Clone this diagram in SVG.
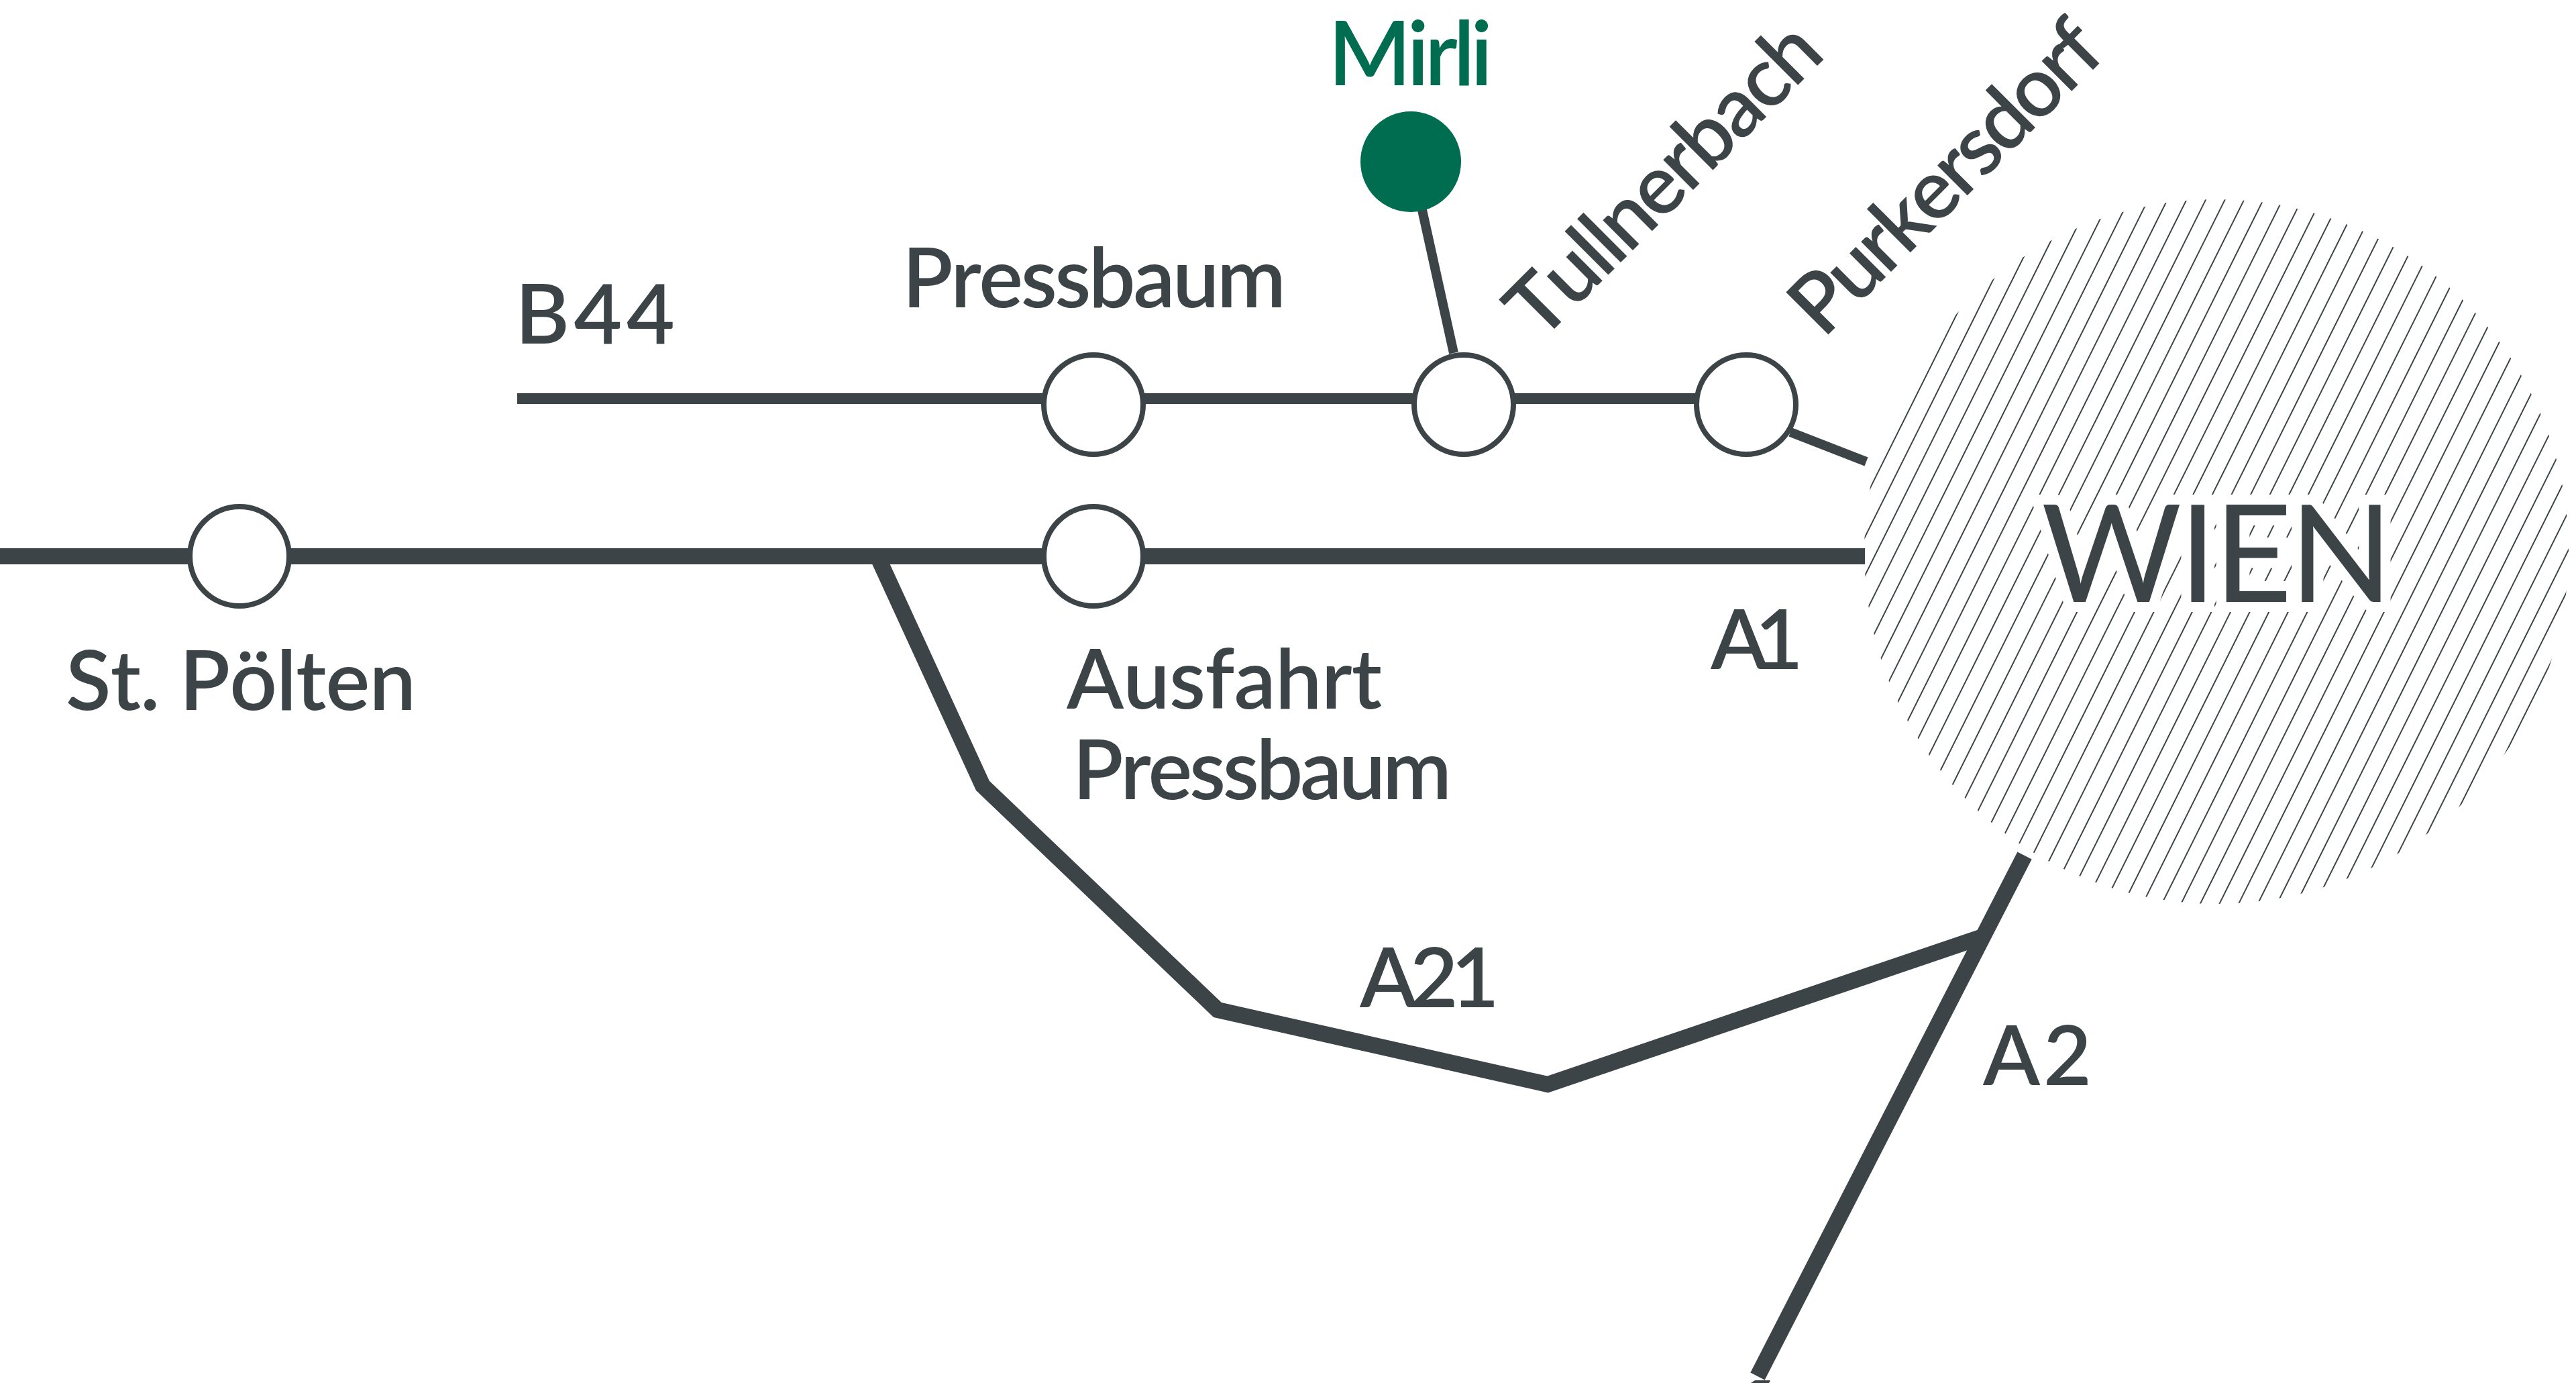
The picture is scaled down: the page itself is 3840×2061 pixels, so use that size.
<svg xmlns="http://www.w3.org/2000/svg" width="3840" height="2061" viewBox="0 0 3840 2061">
<style>
text{font-family:"Lato","Liberation Sans",sans-serif;fill:#3d4447;font-size:124px;font-weight:600;font-kerning:none}
.thin{fill:none;stroke:#3d4447;stroke-width:14}
.b44{fill:none;stroke:#3d4447;stroke-width:16}
.thick{fill:none;stroke:#3d4447;stroke-width:24;stroke-linejoin:miter}
.a1{fill:none;stroke:#3d4447;stroke-width:24}
.node{fill:#fff;stroke:#3d4447;stroke-width:8}
</style>
<defs>
<pattern id="hatch" width="25.6" height="25.6" patternUnits="userSpaceOnUse" patternTransform="rotate(26.5) translate(-9.4 0)">
<line x1="12.8" y1="0" x2="12.8" y2="25.6" stroke="#3d4447" stroke-width="2"/>
</pattern>
</defs>
<rect width="3840" height="2061" fill="#fff"/>
<g id="wien">
<circle cx="3304" cy="822" r="525" fill="url(#hatch)"/>
<text x="3043" y="897" style="font-size:202px;font-weight:400;stroke:#fff;stroke-width:30;paint-order:stroke" textLength="524">WIEN</text>
</g>
<g id="connectors">
<path class="b44" d="M771 594H2603"/>
<path class="thin" d="M2120 313L2167 526"/>
<path class="thin" d="M2669 644L2782 688"/>
<path class="a1" d="M0 829H2780"/>
<path class="thick" d="M1308 829L1465 1171L1815 1505L2307 1616L2952 1397"/>
<path class="thick" d="M3018 1275L2620 2051"/>
<path d="M2610 2061L2616 2057H2639L2637 2061Z" fill="#3d4447"/>
</g>
<g id="mirli"><circle cx="2103" cy="241" r="75" fill="#006d51"/><text x="1980" y="127" textLength="245" style="fill:#006d51;font-size:132px">Mirli</text></g>
<g id="pressbaum"><circle class="node" cx="1630" cy="603" r="74"/><text x="1345" y="458" textLength="572">Pressbaum</text></g>
<g id="tullnerbach"><circle class="node" cx="2182" cy="603" r="74"/><text transform="translate(2296 511) rotate(-45)" textLength="605">Tullnerbach</text></g>
<g id="purkersdorf"><circle class="node" cx="2603" cy="603" r="74"/><text transform="translate(2718 506) rotate(-45)" textLength="600">Purkersdorf</text></g>
<g id="st-poelten"><circle class="node" cx="357" cy="829" r="74"/><text x="98" y="1058" textLength="522">St. Pölten</text></g>
<g id="ausfahrt"><circle class="node" cx="1630" cy="829" r="74"/><text x="1590" y="1056" textLength="470">Ausfahrt</text><text x="1599" y="1191" textLength="565">Pressbaum</text></g>
<g id="labels">
<text x="768" y="512" textLength="238">B44</text>
<text x="2550" y="997" textLength="138">A1</text>
<text x="2027" y="1501" textLength="208">A21</text>
<text x="2956" y="1617" textLength="162">A2</text>
</g>
</svg>
